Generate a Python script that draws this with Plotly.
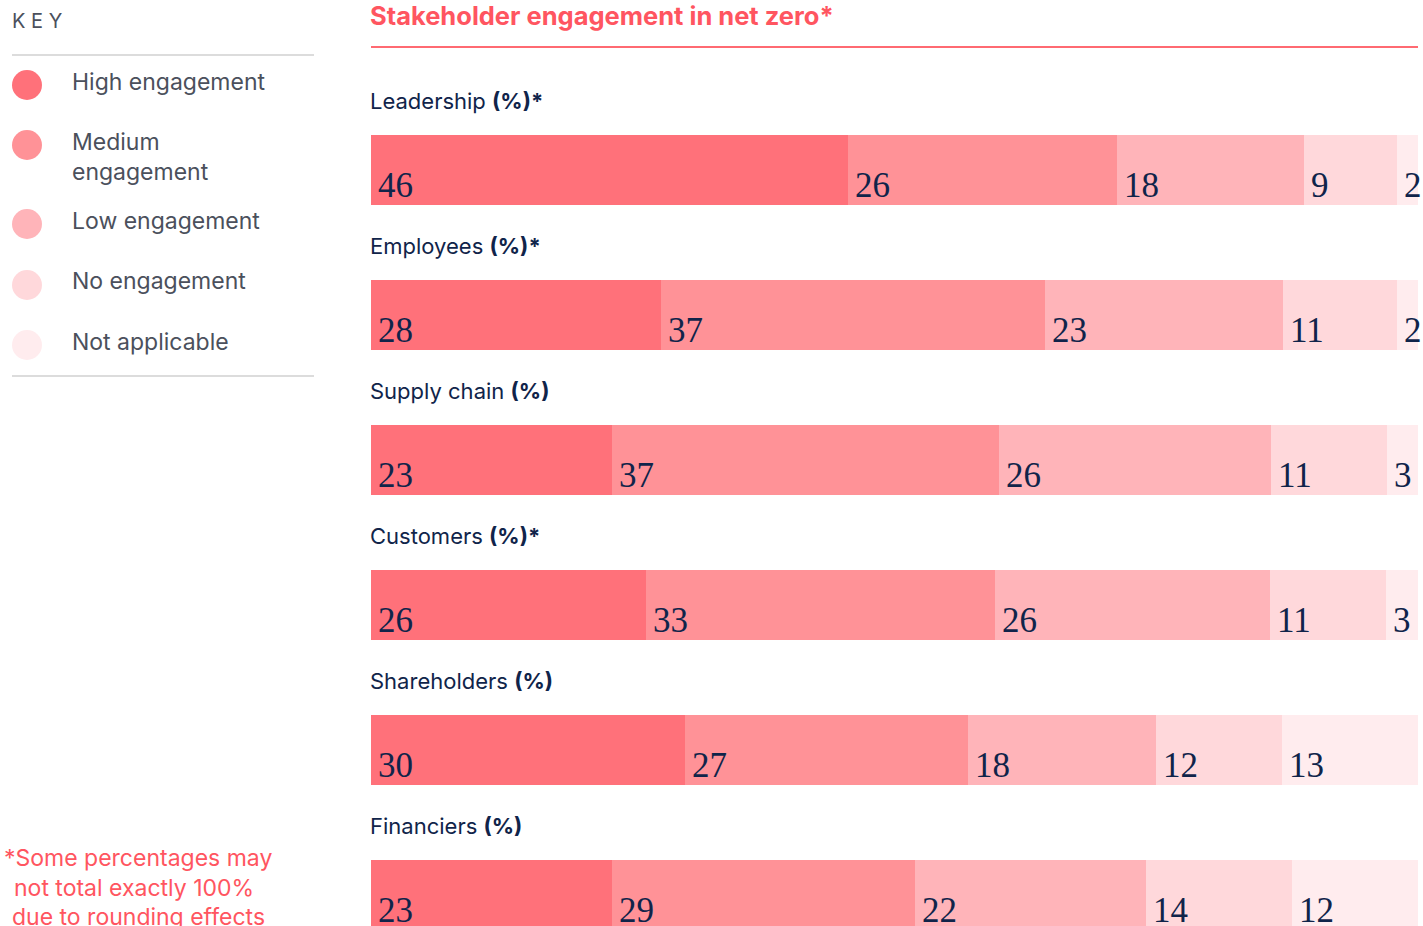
import plotly.graph_objects as go

categories = ["Leadership", "Employees", "Supply chain", "Customers", "Shareholders", "Financiers"]
category_suffix = ["(%)*", "(%)*", "(%)", "(%)*", "(%)", "(%)"]
levels = ["High engagement", "Medium engagement", "Low engagement", "No engagement", "Not applicable"]
high = [46, 28, 23, 26, 30, 23]
medium = [26, 37, 37, 33, 27, 29]
low = [18, 23, 26, 26, 18, 22]
none_ = [9, 11, 11, 11, 12, 14]
not_applicable = [2, 2, 3, 3, 13, 12]
colors = ["#ff717a", "#ff9297", "#ffb4b9", "#ffd8db", "#ffecee"]

series = [high, medium, low, none_, not_applicable]

W, H = 1423, 926
ML, MR = 371, 5
PW = W - ML - MR
TEXT_NAVY = "#10244a"
GREY = "#4b505c"
RED = "#ff5560"
SANS = "Inter, 'Open Sans', sans-serif"
SERIF = "'Liberation Serif', 'DejaVu Serif', serif"

# screen pixel -> paper coords
def px(x):
    return (x - ML) / PW

def py(y):
    return 1 - y / H

fig = go.Figure()
for name, vals, col in zip(levels, series, colors):
    fig.add_trace(go.Bar(
        y=categories, x=vals, name=name, orientation="h",
        marker=dict(color=col, line=dict(width=0)),
        width=70 / 145, hoverinfo="skip", showlegend=False,
    ))

annotations = []
for i, cat in enumerate(categories):
    total = sum(s[i] for s in series)
    cum = 0
    for s in series:
        v = s[i]
        annotations.append(dict(
            x=cum / total * 100, y=cat, xref="x", yref="y",
            text=str(v), showarrow=False, xanchor="left", yanchor="middle",
            xshift=5, yshift=-15,
            font=dict(family=SERIF, size=35, color=TEXT_NAVY),
        ))
        cum += v
    annotations.append(dict(
        x=0, y=cat, xref="paper", yref="y",
        text=f"{cat} <b>{category_suffix[i]}</b>", showarrow=False,
        xanchor="left", yanchor="middle", xshift=-3, yshift=69,
        font=dict(family=SANS, size=22, color=TEXT_NAVY),
    ))

annotations.append(dict(
    x=px(368), y=py(15), xref="paper", yref="paper",
    text="<b>Stakeholder engagement in net zero*</b>", showarrow=False,
    xanchor="left", yanchor="middle",
    font=dict(family=SANS, size=25.5, color=RED),
))

annotations.append(dict(
    x=px(10), y=py(21), xref="paper", yref="paper", text="K E Y", showarrow=False,
    xanchor="left", yanchor="middle", font=dict(family=SANS, size=20, color=GREY),
))
legend_text = [("High engagement", 82), ("Medium<br>engagement", 157), ("Low engagement", 221),
               ("No engagement", 281), ("Not applicable", 342)]
legend_dot_y = [85, 145, 224, 285, 345]
for (t, y) in legend_text:
    annotations.append(dict(
        x=px(70), y=py(y), xref="paper", yref="paper", text=t, showarrow=False,
        xanchor="left", yanchor="middle", align="left",
        font=dict(family=SANS, size=23, color=GREY),
    ))

for t, x, y in [("*Some percentages may", 2, 858), ("not total exactly 100%", 12, 888),
                ("due to rounding effects", 10, 917)]:
    annotations.append(dict(
        x=px(x), y=py(y), xref="paper", yref="paper", text=t, showarrow=False,
        xanchor="left", yanchor="middle",
        font=dict(family=SANS, size=23, color=RED),
    ))

shapes = [
    dict(type="line", xref="paper", yref="paper", x0=px(371), x1=px(1418), y0=py(47), y1=py(47),
         line=dict(color="#ff6a72", width=2)),
    dict(type="line", xref="paper", yref="paper", x0=px(12), x1=px(314), y0=py(55), y1=py(55),
         line=dict(color="#dcdcdc", width=2)),
    dict(type="line", xref="paper", yref="paper", x0=px(12), x1=px(314), y0=py(376), y1=py(376),
         line=dict(color="#dcdcdc", width=2)),
]
for col, y in zip(colors, legend_dot_y):
    shapes.append(dict(
        type="circle", xref="paper", yref="paper", xsizemode="pixel", ysizemode="pixel",
        xanchor=px(27), yanchor=py(y), x0=-15, x1=15, y0=-15, y1=15,
        fillcolor=col, line=dict(width=0),
    ))

# bar centers at screen y = 170 + 145*i
c0 = 170
fig.update_layout(
    width=W, height=H, barmode="stack", barnorm="percent",
    margin=dict(l=ML, r=MR, t=0, b=0),
    paper_bgcolor="white", plot_bgcolor="white",
    xaxis=dict(range=[0, 100], visible=False, fixedrange=True),
    yaxis=dict(type="category", categoryorder="array", categoryarray=categories,
               range=[(H - c0) / 145, -c0 / 145], visible=False, fixedrange=True),
    annotations=annotations, shapes=shapes,
    bargap=0,
)

fig.write_html(
    "out.html",
    config={"displayModeBar": False},
    post_script="document.body.style.margin='0';document.body.style.overflow='hidden';",
)
